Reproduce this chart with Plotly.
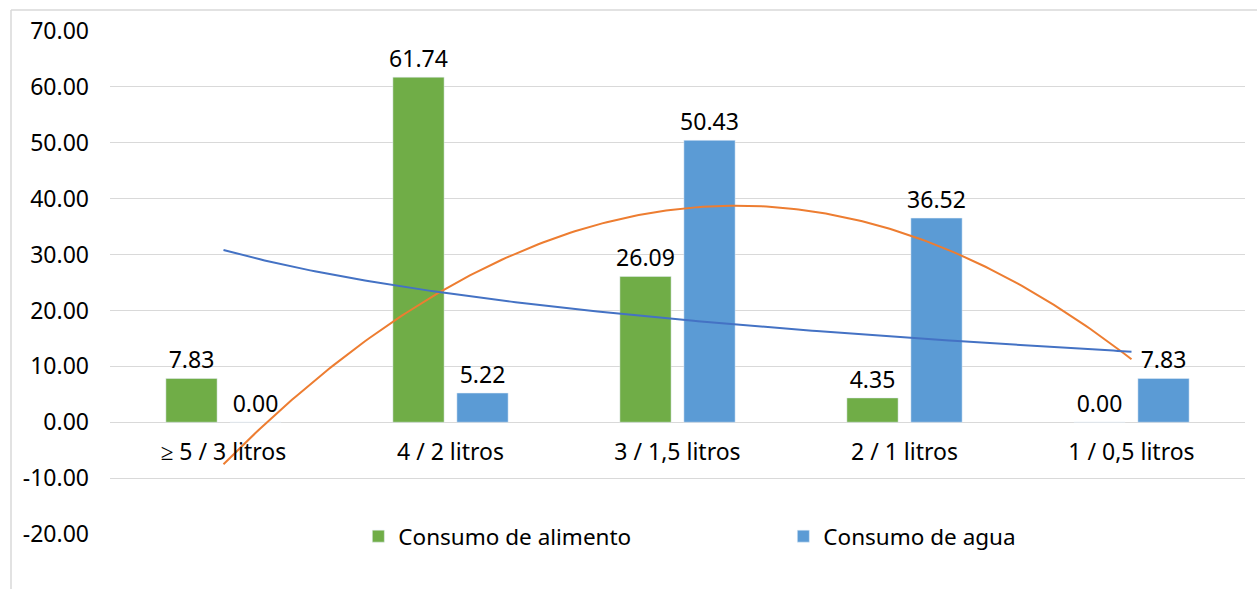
import numpy as np
import plotly.graph_objects as go

categories = ["≥ 5 / 3 litros", "4 / 2 litros", "3 / 1,5 litros", "2 / 1 litros", "1 / 0,5 litros"]
alimento = [7.83, 61.74, 26.09, 4.35, 0.00]
agua = [0.00, 5.22, 50.43, 36.52, 7.83]
y_ticks = [-20, -10, 0, 10, 20, 30, 40, 50, 60, 70]

GREEN = "#70AD47"
BLUE = "#5B9BD5"
FONT = "Noto Sans"
FS = 23

pos = np.arange(len(categories))

fig = go.Figure()
fig.add_trace(go.Bar(
    x=pos, y=alimento, name="Consumo de alimento", marker_color=GREEN,
    text=[f"{v:.2f}" for v in alimento], textposition="outside", constraintext="none",
    textfont=dict(family=FONT, size=FS, color="#000000"), cliponaxis=False,
))
fig.add_trace(go.Bar(
    x=pos, y=agua, name="Consumo de agua", marker_color=BLUE,
    text=[f"{v:.2f}" for v in agua], textposition="outside", constraintext="none",
    textfont=dict(family=FONT, size=FS, color="#000000"), cliponaxis=False,
))

# Trendlines evaluated at the category positions (1..5 in spreadsheet terms)
n = np.arange(1, len(categories) + 1, dtype=float)
xs = np.linspace(1, len(categories), 200)

# Polynomial (order 2) trendline of the water series
c2 = np.polyfit(n, agua, 2)
fig.add_trace(go.Scatter(
    x=xs - 1, y=np.polyval(c2, xs), mode="lines", showlegend=False,
    line=dict(color="#ED7D31", width=2), hoverinfo="skip",
))

# Logarithmic trendline of the food series
cl = np.polyfit(np.log(n), alimento, 1)
fig.add_trace(go.Scatter(
    x=xs - 1, y=cl[0] * np.log(xs) + cl[1], mode="lines", showlegend=False,
    line=dict(color="#4472C4", width=2), hoverinfo="skip",
))

ymin, ymax = y_ticks[0], y_ticks[-1]
top = 31
bottom = 55
plot_h = 589 - top - bottom

fig.update_layout(
    width=1257, height=589,
    margin=dict(l=110, r=12, t=top, b=bottom, autoexpand=False),
    paper_bgcolor="white", plot_bgcolor="white",
    font=dict(family=FONT, size=FS, color="#000000"),
    barmode="group", bargap=0.436, bargroupgap=0.2,
    showlegend=True,
    legend=dict(
        orientation="h", x=0.2188, y=-0.005, xanchor="left", yanchor="middle",
        xref="paper", yref="paper",
        font=dict(family=FONT, size=22.5, color="#000000"),
        entrywidth=380, entrywidthmode="pixels", bgcolor="rgba(0,0,0,0)",
        itemclick=False,
    ),
    xaxis=dict(
        range=[-0.5, len(categories) - 0.5],
        tickmode="array", tickvals=pos, ticktext=categories,
        showgrid=False, showline=False, zeroline=False, ticks="",
        anchor="free", position=(0 - ymin) / (ymax - ymin),
        ticklabelstandoff=14,
    ),
    yaxis=dict(
        range=[ymin, ymax],
        tickmode="array", tickvals=y_ticks, ticktext=[f"{v:.2f}" for v in y_ticks],
        showgrid=True, gridcolor="#D9D9D9", gridwidth=1,
        zeroline=False, showline=False, ticks="",
        ticklabelstandoff=20,
    ),
    shapes=[
        dict(type="line", xref="paper", yref="paper",
             x0=(11 - 110) / 1135, x1=(1300 - 110) / 1135,
             y0=(589 - bottom - 10) / plot_h, y1=(589 - bottom - 10) / plot_h,
             line=dict(color="#D9D9D9", width=1.5)),
        dict(type="line", xref="paper", yref="paper",
             x0=(11 - 110) / 1135, x1=(11 - 110) / 1135,
             y0=-0.3, y1=(589 - bottom - 10) / plot_h,
             line=dict(color="#D9D9D9", width=1.5)),
    ],
)

fig.write_html("out.html")
